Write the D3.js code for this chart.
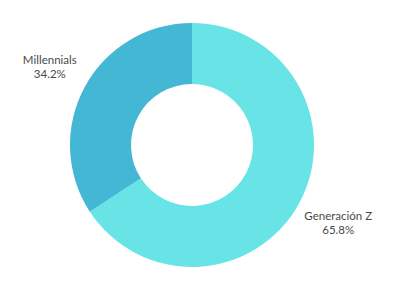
<!DOCTYPE html>
<html>
<head>
<meta charset="utf-8">
<script src="https://cdn.jsdelivr.net/npm/d3@7"></script>
<style>
  body { margin: 0; background: #fff; }
  text { font-family: Lato, "Noto Sans", sans-serif; }
</style>
</head>
<body>
<svg id="chart"></svg>
<script>
var categories = ["Generación Z", "Millennials"];
var shares = [65.8, 34.2];
var colours = ["#68E4E6", "#43B7D4"];

var chart_width = 400;
var chart_height = 290;
var cx = 192, cy = 145;
var outer_r = 122, inner_r = 61, label_r = 164;

var svg = d3.select("#chart")
    .attr("width", chart_width)
    .attr("height", chart_height);

var g = svg.append("g")
    .attr("transform", "translate(" + cx + "," + cy + ")");

var data = categories.map(function(c, i) { return { name: c, value: shares[i] }; });

var pie = d3.pie()
    .sort(null)
    .value(function(d) { return d.value; });

var arc = d3.arc()
    .innerRadius(inner_r)
    .outerRadius(outer_r);

var labelArc = d3.arc()
    .innerRadius(label_r)
    .outerRadius(label_r);

var color = d3.scaleOrdinal()
    .domain(categories)
    .range(colours);

var arcs = pie(data);

g.selectAll("path")
    .data(arcs)
    .enter()
    .append("path")
    .attr("d", arc)
    .attr("fill", function(d) { return color(d.data.name); });

// labels: name on one line, percentage below
var lbl = g.selectAll(".lbl")
    .data(arcs)
    .enter()
    .append("g")
    .attr("class", "lbl")
    .attr("transform", function(d) {
        var c = labelArc.centroid(d);
        return "translate(" + (c[0] + 2) + "," + c[1] + ")";
    });

lbl.append("text")
    .attr("text-anchor", "middle")
    .attr("y", -3)
    .attr("fill", "#4a4a4a")
    .style("font-size", "11.5px")
    .text(function(d) { return d.data.name; });

lbl.append("text")
    .attr("text-anchor", "middle")
    .attr("y", 11)
    .attr("fill", "#4a4a4a")
    .style("font-size", "11.5px")
    .text(function(d) { return d.data.value.toFixed(1) + "%"; });
</script>
</body>
</html>
